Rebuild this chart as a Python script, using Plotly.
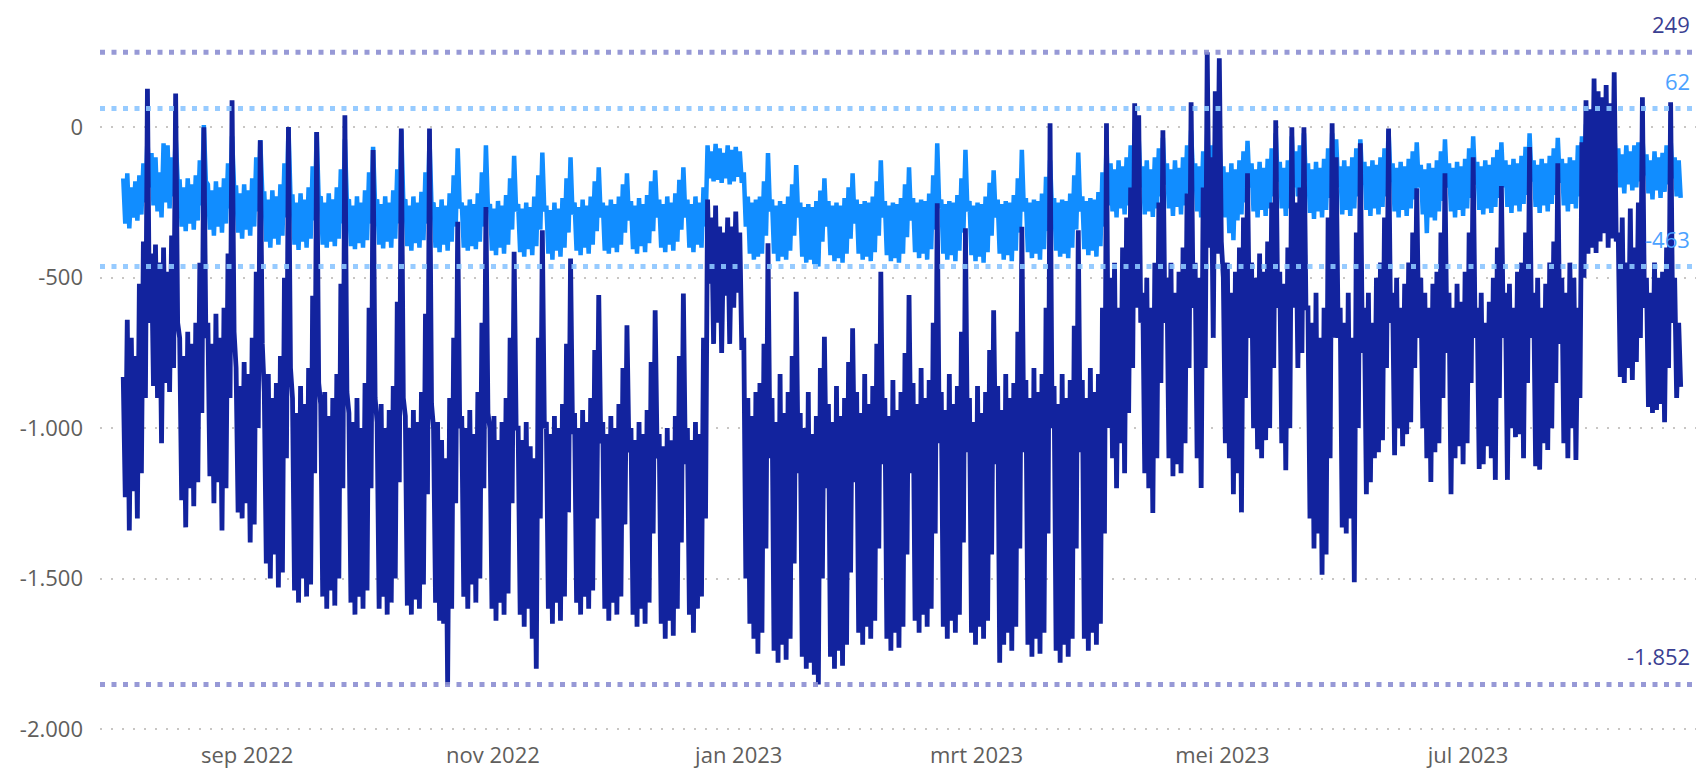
import pandas as pd
import plotly.graph_objects as go

start_day = "2022-08-01"

# daily high / low of the dark series (one row = Mon..Sun)
dark_hi = [
-830, -640, -700, -760, -520, -380, 128,
-420, -390, -450, -400, -480, -360, 112,
-700, -760, -680, -720, -650, -450, 0,
-650, -720, -620, -700, -600, -420, 90,
-800, -860, -780, -820, -700, -480, -43,
-880, -820, -900, -850, -760, -500, 1,
-900, -950, -860, -920, -800, -560, -16,
-920, -880, -960, -900, -820, -520, 40,
-950, -980, -900, -1000, -850, -600, -76,
-980, -920, -1000, -940, -860, -580, -4,
-960, -1000, -940, -980, -880, -620, -4,
-1000, -980, -1040, -1100, -900, -700, -314,
-960, -1000, -940, -1020, -880, -650, -265,
-1000, -960, -1040, -980, -900, -700, -414,
-1000, -1040, -980, -1060, -1100, -700, -342,
-980, -1020, -960, -1000, -920, -720, -436,
-950, -1000, -940, -980, -900, -740, -558,
-980, -1020, -960, -1000, -920, -800, -658,
-1000, -1040, -980, -1020, -940, -780, -608,
-1020, -1060, -1000, -1040, -960, -760, -553,
-1000, -1040, -980, -1020, -700, -240, -300,
-260, -330, -350, -300, -330, -280, -350,
-700, -900, -960, -880, -850, -720, -386,
-900, -980, -820, -950, -880, -760, -547,
-950, -1000, -880, -1020, -960, -800, -696,
-920, -980, -860, -960, -900, -780, -668,
-880, -950, -820, -920, -860, -720, -480,
-900, -960, -840, -940, -880, -750, -558,
-850, -920, -800, -900, -840, -650, -253,
-880, -940, -820, -920, -860, -680, -336,
-900, -980, -860, -950, -880, -740, -608,
-860, -940, -820, -900, -850, -680, -331,
-840, -900, -800, -880, -820, -600, 13,
-860, -920, -820, -900, -840, -660, -342,
-840, -900, -800, -880, -820, -600, 13,
-500, -450, -600, -400, -300, -200, 80,
40, -550, -500, -600, -450, -250, -10,
-500, -450, -550, -480, -400, -220, 83,
-450, -500, -200, 249, -100, 120, 229,
-500, -450, -550, -480, -400, -300, -153,
-450, -500, -420, -480, -380, -250, 23,
-480, -520, -400, 0, -250, -200, 0,
-600, -650, -550, -700, -600, -300, 13,
-100, -600, -650, -550, -700, -350, -53,
-600, -550, -650, -500, -450, -300, -4,
-550, -500, -600, -520, -450, -350, -203,
-500, -550, -600, -520, -480, -350, -153,
-550, -600, -520, -580, -480, -350, -100,
-600, -550, -650, -580, -500, -400, -195,
-550, -520, -600, -480, -450, -350, -66,
-550, -500, -600, -520, -450, -380, -120,
-500, -550, -450, -500, -600, -50, 90,
60, 162, 120, 100, 140, 80, 183,
-350, -300, -450, -270, -400, -250, 100,
-500, -550, -450, -500, -480, -400, 83,
-500, -650,
]

dark_lo = [
-1230, -1340, -1210, -1300, -1150, -900, -650,
-860, -900, -1050, -850, -880, -800, -650,
-1240, -1330, -1200, -1260, -1180, -950, -700,
-1160, -1250, -1180, -1340, -1200, -900, -680,
-1280, -1300, -1250, -1380, -1320, -1000, -720,
-1450, -1500, -1420, -1530, -1480, -1100, -800,
-1540, -1580, -1500, -1560, -1520, -1150, -850,
-1560, -1600, -1540, -1590, -1500, -1200, -880,
-1580, -1620, -1560, -1600, -1540, -1200, -900,
-1600, -1560, -1620, -1580, -1500, -1180, -900,
-1590, -1620, -1570, -1600, -1520, -1220, -920,
-1580, -1640, -1650, -1852, -1600, -1250, -1000,
-1560, -1600, -1520, -1580, -1500, -1200, -950,
-1600, -1640, -1580, -1620, -1550, -1250, -1000,
-1620, -1660, -1600, -1700, -1800, -1300, -1000,
-1600, -1650, -1580, -1640, -1560, -1280, -1020,
-1580, -1620, -1560, -1600, -1540, -1300, -1050,
-1600, -1640, -1580, -1620, -1560, -1320, -1080,
-1620, -1660, -1600, -1650, -1580, -1350, -1100,
-1650, -1700, -1640, -1690, -1600, -1380, -1120,
-1620, -1680, -1600, -1560, -1300, -520, -720,
-650, -750, -560, -720, -600, -550, -740,
-1500, -1650, -1700, -1750, -1680, -1400, -1100,
-1740, -1780, -1720, -1770, -1700, -1450, -1150,
-1760, -1800, -1780, -1820, -1852, -1500, -1200,
-1760, -1800, -1740, -1790, -1720, -1480, -1180,
-1680, -1720, -1660, -1700, -1640, -1400, -1120,
-1700, -1740, -1680, -1730, -1660, -1420, -1150,
-1640, -1680, -1620, -1660, -1600, -1350, -1050,
-1660, -1700, -1640, -1680, -1620, -1380, -1080,
-1680, -1720, -1660, -1700, -1640, -1420, -1120,
-1780, -1720, -1680, -1740, -1660, -1400, -1080,
-1720, -1760, -1700, -1750, -1680, -1350, -1000,
-1740, -1780, -1720, -1760, -1700, -1400, -1080,
-1700, -1740, -1680, -1720, -1650, -1350, -1000,
-1100, -1200, -1050, -1150, -950, -800, -600,
-650, -1150, -1200, -1282, -1100, -850, -650,
-1100, -1160, -1120, -1150, -1050, -800, -600,
-1100, -1199, -800, -400, -700, -420, -380,
-1050, -1100, -1220, -1150, -1280, -900, -700,
-1000, -1070, -1100, -1040, -1000, -800, -600,
-1050, -1140, -1000, -600, -800, -750, -600,
-1300, -1400, -1350, -1487, -1420, -1100, -700,
-700, -1330, -1350, -1300, -1512, -1000, -750,
-1220, -1180, -1100, -1080, -1040, -800, -650,
-1090, -1000, -1060, -1020, -980, -800, -700,
-1000, -1100, -1179, -1080, -1050, -900, -750,
-1220, -1100, -1060, -1120, -1050, -850, -700,
-1136, -1120, -1060, -1100, -1172, -900, -700,
-1172, -1000, -1030, -1020, -1100, -850, -700,
-1127, -1138, -1050, -1073, -1000, -850, -720,
-1050, -1100, -1000, -1106, -900, -500, -420,
-400, -418, -380, -352, -400, -370, -380,
-830, -850, -800, -840, -780, -700, -600,
-930, -950, -940, -920, -980, -800, -650,
-900, -863,
]

# daily high / low of the light series
light_hi = [
-170, -153, -200, -180, -160, -120, -40,
-86, -100, -150, -53, -60, -100, -30,
-180, -200, -170, -190, -160, -110, 7,
-190, -210, -180, -200, -170, -120, -30,
-200, -220, -190, -210, -170, -100, -43,
-220, -240, -210, -230, -190, -120, 0,
-230, -250, -220, -240, -200, -130, -17,
-230, -250, -220, -240, -200, -140, -40,
-240, -260, -230, -250, -210, -150, -65,
-240, -255, -230, -250, -210, -140, -10,
-240, -260, -230, -250, -215, -150, -40,
-250, -265, -240, -260, -220, -160, -70,
-250, -260, -240, -255, -220, -150, -60,
-255, -270, -245, -260, -225, -170, -95,
-255, -270, -250, -265, -230, -160, -84,
-260, -275, -250, -270, -235, -170, -100,
-250, -265, -240, -260, -230, -180, -133,
-250, -260, -240, -255, -230, -190, -153,
-245, -260, -235, -255, -225, -180, -143,
-240, -255, -230, -250, -220, -175, -133,
-240, -255, -230, -250, -200, -60, -80,
-55, -70, -85, -60, -75, -65, -80,
-150, -230, -250, -240, -230, -180, -86,
-240, -260, -245, -255, -230, -190, -126,
-250, -265, -255, -265, -245, -210, -170,
-245, -260, -250, -260, -235, -200, -153,
-240, -255, -245, -250, -230, -180, -110,
-245, -260, -250, -255, -235, -190, -133,
-235, -250, -240, -245, -220, -160, -53,
-240, -255, -245, -250, -225, -170, -75,
-245, -260, -250, -255, -230, -185, -143,
-240, -255, -245, -250, -225, -170, -75,
-235, -250, -240, -245, -220, -165, -110,
-235, -250, -240, -245, -220, -160, -84,
-230, -245, -235, -240, -215, -150, -60,
-120, -140, -110, -130, -100, -60, -20,
-40, -130, -110, -140, -100, -70, -35,
-120, -140, -110, -135, -100, -60, -10,
-120, -130, -80, -20, -60, -40, -30,
-130, -150, -120, -140, -110, -80, -45,
-120, -140, -115, -135, -105, -70, -20,
-115, -135, -110, -30, -80, -60, -20,
-120, -140, -115, -135, -105, -70, -20,
-40, -130, -110, -130, -100, -70, -40,
-115, -130, -110, -125, -100, -70, -10,
-120, -135, -115, -130, -105, -80, -50,
-125, -140, -120, -135, -110, -80, -40,
-120, -135, -115, -130, -105, -70, -30,
-115, -130, -110, -125, -100, -75, -50,
-110, -125, -105, -120, -95, -65, -20,
-110, -125, -105, -120, -95, -70, -35,
-105, -120, -100, -110, -60, -30, 10,
-30, 62, -20, -40, -30, -20, -10,
-70, -90, -60, -80, -60, -50, -30,
-90, -110, -80, -100, -85, -60, -40,
-100, -110,
]

light_lo = [
-320, -336, -300, -310, -290, -250, -200,
-260, -280, -300, -250, -270, -230, -180,
-330, -345, -320, -340, -310, -260, -180,
-340, -360, -330, -350, -320, -270, -200,
-350, -370, -340, -360, -330, -280, -220,
-380, -400, -370, -390, -360, -300, -230,
-390, -408, -380, -400, -370, -310, -240,
-390, -400, -380, -395, -370, -320, -250,
-395, -405, -385, -400, -375, -320, -260,
-390, -403, -380, -400, -370, -320, -250,
-395, -410, -385, -400, -375, -320, -260,
-400, -415, -390, -410, -380, -330, -270,
-400, -410, -395, -405, -380, -330, -270,
-410, -425, -400, -420, -390, -340, -280,
-415, -430, -405, -425, -395, -340, -280,
-420, -440, -410, -430, -400, -350, -290,
-410, -425, -400, -420, -390, -345, -300,
-410, -420, -400, -415, -390, -350, -310,
-405, -420, -395, -415, -385, -345, -300,
-400, -415, -390, -410, -380, -340, -300,
-400, -415, -390, -400, -330, -170, -180,
-175, -185, -170, -190, -180, -165, -185,
-330, -420, -440, -430, -420, -360, -280,
-420, -445, -430, -440, -410, -360, -300,
-430, -450, -440, -455, -463, -380, -330,
-425, -445, -435, -450, -420, -370, -320,
-420, -440, -430, -445, -415, -360, -300,
-425, -445, -435, -450, -420, -365, -310,
-415, -435, -420, -440, -405, -340, -270,
-420, -440, -425, -445, -410, -350, -280,
-425, -445, -430, -450, -415, -360, -300,
-420, -440, -425, -445, -410, -350, -280,
-415, -435, -420, -440, -405, -345, -285,
-410, -430, -420, -435, -400, -340, -280,
-405, -425, -410, -430, -395, -330, -260,
-280, -300, -270, -290, -260, -220, -180,
-200, -290, -280, -298, -270, -230, -190,
-270, -295, -265, -290, -260, -220, -170,
-280, -300, -250, -180, -220, -200, -190,
-300, -352, -375, -310, -290, -250, -200,
-280, -300, -275, -295, -270, -230, -180,
-270, -295, -270, -200, -230, -210, -180,
-285, -305, -280, -300, -275, -235, -185,
-200, -290, -275, -295, -270, -230, -190,
-275, -295, -270, -290, -265, -230, -180,
-280, -300, -275, -295, -270, -240, -200,
-290, -352, -300, -310, -280, -245, -200,
-280, -300, -275, -295, -270, -235, -190,
-275, -290, -270, -285, -265, -235, -200,
-265, -285, -260, -280, -255, -225, -180,
-265, -285, -260, -280, -255, -225, -185,
-260, -280, -255, -270, -230, -180, -150,
-180, -160, -190, -170, -185, -160, -150,
-200, -220, -190, -210, -200, -180, -160,
-220, -240, -210, -235, -215, -190, -170,
-230, -235,
]

y_tick_vals = [0, -500, -1000, -1500, -2000]
y_tick_text = ["0", "-500", "-1.000", "-1.500", "-2.000"]
x_tick_vals = ["2022-09-01", "2022-11-01", "2023-01-01", "2023-03-01", "2023-05-01", "2023-07-01"]
x_tick_text = ["sep 2022", "nov 2022", "jan 2023", "mrt 2023", "mei 2023", "jul 2023"]

n = min(len(dark_hi), len(dark_lo), len(light_hi), len(light_lo))
days = pd.date_range(start_day, periods=n, freq="D")
x = []
for d in days:
    x.append((d + pd.Timedelta(hours=6)).strftime("%Y-%m-%d %H:%M"))
    x.append((d + pd.Timedelta(hours=18)).strftime("%Y-%m-%d %H:%M"))
dark_y = [v for pair in zip(dark_hi[:n], dark_lo[:n]) for v in pair]
light_y = [v for pair in zip(light_hi[:n], light_lo[:n]) for v in pair]

DARK = "#12239E"
LIGHT = "#118DFF"
FONT = "Segoe UI, Open Sans, sans-serif"

fig = go.Figure()
fig.add_trace(go.Scatter(x=x, y=light_y, mode="lines", line=dict(color=LIGHT, width=4.5),
                         showlegend=False, hoverinfo="skip"))
fig.add_trace(go.Scatter(x=x, y=dark_y, mode="lines", line=dict(color=DARK, width=4.8),
                         showlegend=False, hoverinfo="skip"))


def nl(v):
    return f"{v:,}".replace(",", ".")


ref_lines = [
    (max(dark_hi), "#8C8FD2", "#3B3F92"),
    (max(light_hi), "#8CC6FF", "#4CA2FF"),
    (min(light_lo), "#8CC6FF", "#4CA2FF"),
    (min(dark_lo), "#8C8FD2", "#3B3F92"),
]
for val, lc, tc in ref_lines:
    fig.add_shape(type="line", xref="paper", x0=0, x1=1, yref="y", y0=val, y1=val,
                  line=dict(color=lc, width=5, dash="5px,6.5px"), layer="above", opacity=0.9)
    fig.add_annotation(xref="paper", x=1, yref="y", y=val, text=nl(val), showarrow=False,
                       xanchor="right", yanchor="middle", yshift=28, xshift=-4,
                       font=dict(family=FONT, size=22, color=tc))

fig.update_layout(
    width=1701, height=775, autosize=False,
    margin=dict(l=100, r=5, t=34, b=37),
    paper_bgcolor="white", plot_bgcolor="white",
    font=dict(family=FONT, size=22, color="#605E5C"),
    separators=",.",
    showlegend=False,
    hovermode=False,
)
fig.update_yaxes(range=[-2030, 310], tickvals=y_tick_vals, ticktext=y_tick_text,
                 showgrid=True, gridcolor="#C8C6C4", griddash="2px,9px", gridwidth=1.5,
                 zeroline=False, showline=False, ticks="", ticklabelstandoff=16,
                 tickfont=dict(family=FONT, size=22, color="#605E5C"))
fig.update_xaxes(range=["2022-07-26 11:30", "2023-08-26 13:10"], tickvals=x_tick_vals,
                 ticktext=x_tick_text, showgrid=False, zeroline=False, showline=False,
                 ticks="", ticklabelstandoff=2,
                 tickfont=dict(family=FONT, size=22, color="#605E5C"))

fig.write_html("out.html", config={"displayModeBar": False},
               post_script="document.body.style.margin='0';document.body.style.overflow='hidden';")
